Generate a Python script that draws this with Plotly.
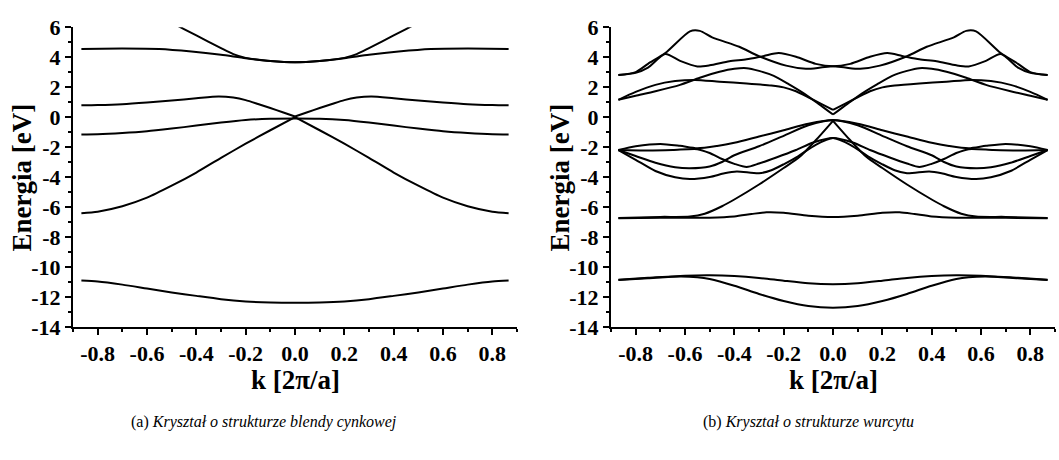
import plotly.graph_objects as go

# Band energies E(k) in eV, listed for k <= 0 only; each band is symmetric in k.
# Zinc-blende crystal
ZB_S = [(-0.866, -10.91), (-0.8, -10.97), (-0.7, -11.18), (-0.6, -11.44), (-0.5, -11.70),
        (-0.4, -11.93), (-0.3, -12.15), (-0.2, -12.30), (-0.1, -12.37), (0.0, -12.39)]
ZB_P1 = [(-0.866, -6.41), (-0.8, -6.31), (-0.7, -5.95), (-0.6, -5.38), (-0.5, -4.58),
         (-0.4, -3.70), (-0.3, -2.72), (-0.2, -1.78), (-0.1, -0.88), (0.0, 0.0)]
ZB_P2 = [(-0.866, -1.16), (-0.8, -1.15), (-0.7, -1.07), (-0.6, -0.95), (-0.5, -0.77),
         (-0.4, -0.57), (-0.3, -0.37), (-0.2, -0.20), (-0.1, -0.11), (0.0, -0.09)]
ZB_P3 = [(-0.866, 0.78), (-0.8, 0.80), (-0.7, 0.86), (-0.6, 0.97), (-0.5, 1.10), (-0.4, 1.25),
         (-0.31, 1.37), (-0.25, 1.30), (-0.2, 1.13), (-0.15, 0.87), (-0.1, 0.60), (-0.05, 0.32),
         (0.0, 0.04)]
ZB_C1 = [(-0.866, 4.54), (-0.7, 4.57), (-0.55, 4.54), (-0.42, 4.37), (-0.3, 4.15),
         (-0.2, 3.92), (-0.1, 3.74), (0.0, 3.66)]
ZB_C2 = [(-0.6, 7.2), (-0.5, 6.3), (-0.4, 5.45), (-0.3, 4.6), (-0.25, 4.2), (-0.2, 3.95),
         (-0.1, 3.74), (0.0, 3.66)]

# Wurtzite crystal
WZ_S1 = [(-0.87, -10.87), (-0.75, -10.75), (-0.62, -10.63), (-0.55, -10.68), (-0.5, -10.80),
         (-0.4, -11.25), (-0.3, -11.80), (-0.2, -12.27), (-0.1, -12.61), (0.0, -12.72)]
WZ_S2 = [(-0.87, -10.85), (-0.75, -10.72), (-0.6, -10.58), (-0.5, -10.55), (-0.4, -10.60),
         (-0.3, -10.73), (-0.2, -10.92), (-0.1, -11.09), (0.0, -11.15)]
WZ_D1 = [(-0.87, -6.75), (-0.7, -6.72), (-0.5, -6.71), (-0.4, -6.63), (-0.33, -6.47),
         (-0.27, -6.35), (-0.2, -6.38), (-0.1, -6.58), (0.0, -6.67)]
WZ_D2 = [(-0.87, -6.73), (-0.7, -6.66), (-0.58, -6.64), (-0.52, -6.45), (-0.45, -5.95),
         (-0.4, -5.50), (-0.3, -4.50), (-0.2, -3.40), (-0.135, -2.65), (-0.07, -1.55),
         (0.0, -0.25)]
WZ_V1 = [(-0.87, -2.20), (-0.8, -1.95), (-0.7, -1.79), (-0.62, -1.92), (-0.55, -2.08),
         (-0.47, -1.93), (-0.4, -1.72), (-0.3, -1.30), (-0.2, -0.88), (-0.1, -0.45), (0.0, -0.20)]
WZ_V2 = [(-0.87, -2.20), (-0.75, -2.23), (-0.65, -2.20), (-0.55, -2.14), (-0.5, -2.40),
         (-0.45, -2.80), (-0.4, -3.12), (-0.35, -3.33), (-0.3, -3.10), (-0.23, -2.70),
         (-0.15, -2.20), (-0.08, -1.70), (0.0, -1.40)]
WZ_V3 = [(-0.87, -2.20), (-0.8, -2.60), (-0.72, -3.05), (-0.64, -3.35), (-0.58, -3.42),
         (-0.5, -3.30), (-0.45, -3.00), (-0.4, -2.55), (-0.3, -1.95), (-0.2, -1.25),
         (-0.1, -0.55), (0.0, -0.22)]
WZ_V4 = [(-0.87, -2.20), (-0.8, -2.85), (-0.72, -3.60), (-0.64, -4.02), (-0.58, -4.14),
         (-0.5, -4.00), (-0.44, -3.75), (-0.39, -3.63), (-0.3, -3.75), (-0.25, -3.55),
         (-0.2, -3.15), (-0.14, -2.60), (-0.07, -1.85), (0.0, -1.40)]
WZ_C1 = [(-0.87, 1.15), (-0.8, 1.42), (-0.72, 1.72), (-0.62, 2.15), (-0.54, 2.62),
         (-0.46, 3.02), (-0.4, 3.22), (-0.35, 3.26), (-0.3, 3.08), (-0.24, 2.75), (-0.18, 2.20),
         (-0.12, 1.60), (-0.06, 0.90), (0.0, 0.17)]
WZ_C2 = [(-0.87, 1.15), (-0.8, 1.68), (-0.72, 2.15), (-0.64, 2.40), (-0.56, 2.48),
         (-0.46, 2.36), (-0.35, 2.24), (-0.25, 2.10), (-0.2, 1.98), (-0.15, 1.72), (-0.1, 1.32),
         (-0.05, 0.90), (0.0, 0.48)]
WZ_C3 = [(-0.87, 2.80), (-0.8, 2.95), (-0.75, 3.30), (-0.68, 4.20), (-0.62, 3.75),
         (-0.55, 3.38), (-0.5, 3.45), (-0.42, 3.72), (-0.35, 3.85), (-0.28, 4.08), (-0.22, 4.27),
         (-0.15, 4.02), (-0.07, 3.55), (0.0, 3.39)]
WZ_C4 = [(-0.87, 2.80), (-0.8, 3.00), (-0.75, 3.55), (-0.68, 4.27), (-0.58, 5.72),
         (-0.54, 5.75), (-0.49, 5.32), (-0.38, 4.69), (-0.3, 4.06), (-0.19, 3.43), (-0.11, 3.22),
         (-0.05, 3.30), (0.0, 3.39)]

# Tick positions and labels (plain hyphen-minus signs)
X_TICKS = [-0.8, -0.6, -0.4, -0.2, 0.0, 0.2, 0.4, 0.6, 0.8]
X_TICK_TEXT = ["-0.8", "-0.6", "-0.4", "-0.2", "0.0", "0.2", "0.4", "0.6", "0.8"]
Y_TICKS = [-14, -12, -10, -8, -6, -4, -2, 0, 2, 4, 6]
Y_TICK_TEXT = ["-14", "-12", "-10", "-8", "-6", "-4", "-2", "0", "2", "4", "6"]

# (band, has a cusp at k = 0)
ZB_BANDS = [(ZB_S, False), (ZB_P1, True), (ZB_P2, False), (ZB_P3, True), (ZB_C1, False), (ZB_C2, False)]
WZ_BANDS = [(WZ_S1, False), (WZ_S2, False), (WZ_D1, False), (WZ_D2, True), (WZ_V1, False),
            (WZ_V2, False), (WZ_V3, False), (WZ_V4, False), (WZ_C1, True), (WZ_C2, True),
            (WZ_C3, False), (WZ_C4, False)]

FONT = "Liberation Serif"
W, H = 1059, 460
LINE = dict(color="black", width=2, shape="spline", smoothing=0.7)


def band_traces(points, cusp, xa, ya):
    ks = [p[0] for p in points]
    es = [p[1] for p in points]
    if cusp:
        # two branches meeting at k = 0
        parts = [(ks, es), ([-k for k in ks], es)]
    else:
        parts = [(ks + [-k for k in reversed(ks[:-1])], es + list(reversed(es[:-1])))]
    return [go.Scatter(x=x, y=y, mode="lines", line=LINE, xaxis=xa, yaxis=ya,
                       hoverinfo="skip", showlegend=False) for x, y in parts]


fig = go.Figure()
for pts, cusp in ZB_BANDS:
    for tr in band_traces(pts, cusp, "x", "y"):
        fig.add_trace(tr)
for pts, cusp in WZ_BANDS:
    for tr in band_traces(pts, cusp, "x2", "y2"):
        fig.add_trace(tr)

tickfont = dict(family=FONT, size=22, color="black", weight="bold")
common = dict(ticks="outside", ticklen=6, tickwidth=2, tickcolor="black", showline=True,
              linewidth=2, linecolor="black", showgrid=False, zeroline=False,
              tickfont=tickfont, fixedrange=True, tickmode="array")


def xaxis(dom, anchor):
    return dict(domain=dom, anchor=anchor, range=[-0.9, 0.9],
                tickvals=X_TICKS, ticktext=X_TICK_TEXT,
                minor=dict(tickmode="linear", dtick=0.1, tick0=0, ticks="outside", ticklen=3,
                           tickwidth=2, tickcolor="black"),
                **common)


def yaxis(anchor):
    return dict(domain=[1 - 333 / H, 1 - 16 / H], anchor=anchor, range=[-14, 6],
                tickvals=Y_TICKS, ticktext=Y_TICK_TEXT,
                minor=dict(tickmode="linear", dtick=1, tick0=0, ticks="outside", ticklen=3,
                           tickwidth=2, tickcolor="black"),
                **common)


title_font = dict(family=FONT, size=27, color="black", weight="bold")
cap_font = dict(family=FONT, size=16, color="black")

annotations = [
    dict(text="Energia [eV]", x=22 / W, y=1 - 175 / H, textangle=-90, font=title_font),
    dict(text="Energia [eV]", x=560 / W, y=1 - 175 / H, textangle=-90, font=title_font),
    dict(text="k [2\u03c0/a]", x=295.5 / W, y=1 - 389 / H, font=title_font),
    dict(text="k [2\u03c0/a]", x=833 / W, y=1 - 389 / H, font=title_font),
    dict(text="(a) <i>Kryszta\u0142 o strukturze blendy cynkowej</i>", x=264 / W, y=1 - 434 / H,
         font=cap_font),
    dict(text="(b) <i>Kryszta\u0142 o strukturze wurcytu</i>", x=808 / W, y=1 - 434 / H,
         font=cap_font),
]
for a in annotations:
    a.update(xref="paper", yref="paper", showarrow=False, xanchor="center", yanchor="middle")

fig.update_layout(
    width=W, height=H, margin=dict(l=0, r=0, t=0, b=0),
    paper_bgcolor="white", plot_bgcolor="white",
    xaxis=xaxis([73 / W, 517 / W], "y"),
    yaxis=yaxis("x"),
    xaxis2=xaxis([611 / W, 1055 / W], "y2"),
    yaxis2=yaxis("x2"),
    annotations=annotations,
    showlegend=False,
)

fig.write_html("out.html")
